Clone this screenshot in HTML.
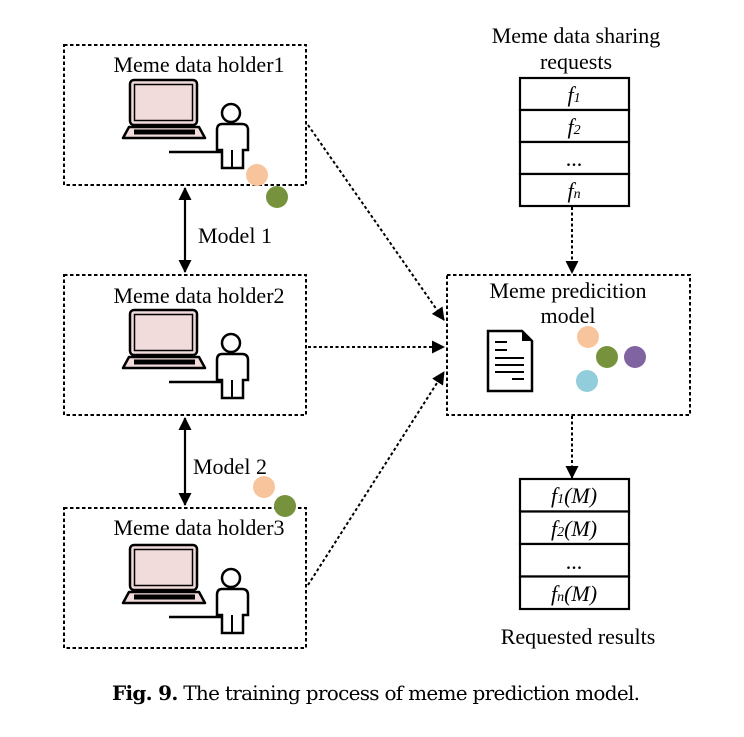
<!DOCTYPE html>
<html><head><meta charset="utf-8"><style>
html,body{margin:0;padding:0;background:#fff;}
svg text{font-family:"Liberation Serif",serif;}
</style></head><body>
<svg width="744" height="732" viewBox="0 0 744 732" xmlns="http://www.w3.org/2000/svg">
<defs>
<marker id="ah" markerWidth="13" markerHeight="13" refX="12" refY="6.5" orient="auto" markerUnits="userSpaceOnUse">
<path d="M0,0 L13,6.5 L0,13 z" fill="#000"/></marker>
<marker id="ahs" markerWidth="13" markerHeight="13" refX="1" refY="6.5" orient="auto" markerUnits="userSpaceOnUse">
<path d="M13,0 L0,6.5 L13,13 z" fill="#000"/></marker>
<g id="pc">
<rect x="130" y="80" width="67" height="45" rx="4" fill="#f2dcdb" stroke="#000" stroke-width="2.5"/>
<rect x="134.5" y="84.5" width="58" height="36" fill="#f2dcdb" stroke="#000" stroke-width="1.5"/>
<path d="M129,127 L199,127 L205,138 L123,138 Z" fill="#f2dcdb" stroke="#000" stroke-width="2.5" stroke-linejoin="round"/>
<rect x="134" y="129.5" width="61" height="5" fill="#000"/>
<circle cx="231" cy="113" r="9" fill="#fff" stroke="#000" stroke-width="2.5"/>
<path d="M222,124 L242,124 Q248,124 248,130 L248,150 L243,150 L243,168 L222,168 L222,150 L217,150 L217,130 Q217,124 222,124 Z" fill="#fff" stroke="#000" stroke-width="2.5"/>
<line x1="232" y1="150" x2="232" y2="168" stroke="#000" stroke-width="2"/>
<line x1="169" y1="152" x2="222" y2="152" stroke="#000" stroke-width="2.5"/>
</g>
</defs>
<g fill="none" stroke="#000" stroke-width="2" stroke-dasharray="3.5,2.5">
<rect x="64" y="45" width="242" height="140"/>
<rect x="64" y="275" width="242" height="140"/>
<rect x="64" y="508" width="242" height="140"/>
<rect x="447" y="275" width="243" height="140"/>
</g>
<g font-size="22" text-anchor="middle">
<text x="199" y="72">Meme data holder1</text>
<text x="199" y="303">Meme data holder2</text>
<text x="199" y="535">Meme data holder3</text>
<text x="568" y="298">Meme predicition</text>
<text x="568" y="323">model</text>
<text x="576" y="43">Meme data sharing</text>
<text x="576" y="69">requests</text>
<text x="578" y="644">Requested results</text>
</g>
<use href="#pc"/>
<use href="#pc" transform="translate(0,230)"/>
<use href="#pc" transform="translate(0,465)"/>
<circle cx="257" cy="175" r="11" fill="#f8c49b"/>
<circle cx="277" cy="197" r="11" fill="#76923c"/>
<circle cx="264" cy="487" r="11" fill="#f8c49b"/>
<circle cx="285" cy="506" r="11" fill="#76923c"/>
<circle cx="588" cy="337" r="11" fill="#f8c49b"/>
<circle cx="607" cy="357" r="11" fill="#76923c"/>
<circle cx="635" cy="357" r="11" fill="#8064a2"/>
<circle cx="587" cy="381" r="11" fill="#92cddc"/>
<path d="M488,331 L522,331 L532,341 L532,391 L488,391 Z" fill="#fff" stroke="#000" stroke-width="2.5"/>
<path d="M522,331 L532,341 L522,341 Z" fill="#000"/>
<g stroke="#000" stroke-width="2">
<line x1="495" y1="342" x2="507" y2="342"/><line x1="495" y1="350" x2="507" y2="350"/>
<line x1="495" y1="358" x2="524" y2="358"/><line x1="495" y1="365" x2="524" y2="365"/>
<line x1="495" y1="372" x2="524" y2="372"/><line x1="512" y1="379" x2="524" y2="379"/>
</g>
<g stroke="#000" stroke-width="2.2">
<line x1="185" y1="188" x2="185" y2="272" marker-start="url(#ahs)" marker-end="url(#ah)"/>
<line x1="185" y1="418" x2="185" y2="505" marker-start="url(#ahs)" marker-end="url(#ah)"/>
</g>
<g font-size="22">
<text x="198" y="243">Model 1</text>
<text x="193" y="474">Model 2</text>
</g>
<g stroke="#000" stroke-width="2" stroke-dasharray="3,2.5" fill="none">
<line x1="308" y1="125" x2="444" y2="320" marker-end="url(#ah)"/>
<line x1="308" y1="347" x2="444" y2="347" marker-end="url(#ah)"/>
<line x1="308" y1="585" x2="444" y2="372" marker-end="url(#ah)"/>
<line x1="572" y1="207" x2="572" y2="273" marker-end="url(#ah)"/>
<line x1="572" y1="416" x2="572" y2="478" marker-end="url(#ah)"/>
</g>
<g fill="#fff" stroke="#000" stroke-width="2.2">
<rect x="520" y="78" width="109" height="32"/><rect x="520" y="110" width="109" height="32"/>
<rect x="520" y="142" width="109" height="32"/><rect x="520" y="174" width="109" height="32"/>
<rect x="520" y="479" width="109" height="32.5"/><rect x="520" y="511.5" width="109" height="32.5"/>
<rect x="520" y="544" width="109" height="32.5"/><rect x="520" y="576.5" width="109" height="32.5"/>
</g>
<g font-size="22" text-anchor="middle" font-style="italic">
<text x="574" y="102">f<tspan font-size="14">1</tspan></text>
<text x="574" y="134">f<tspan font-size="14">2</tspan></text>
<text x="574" y="166" font-style="normal">...</text>
<text x="574" y="198">f<tspan font-size="14">n</tspan></text>
<text x="574" y="503">f<tspan font-size="14">1</tspan>(M)</text>
<text x="574" y="536">f<tspan font-size="14">2</tspan>(M)</text>
<text x="574" y="569" font-style="normal">...</text>
<text x="574" y="601">f<tspan font-size="14">n</tspan>(M)</text>
</g>
<text x="376" y="700" font-size="20" text-anchor="middle" style="font-family:'DejaVu Serif','Liberation Serif',serif" textLength="528"><tspan font-weight="bold">Fig. 9.</tspan> The training process of meme prediction model.</text>
</svg>
</body></html>
